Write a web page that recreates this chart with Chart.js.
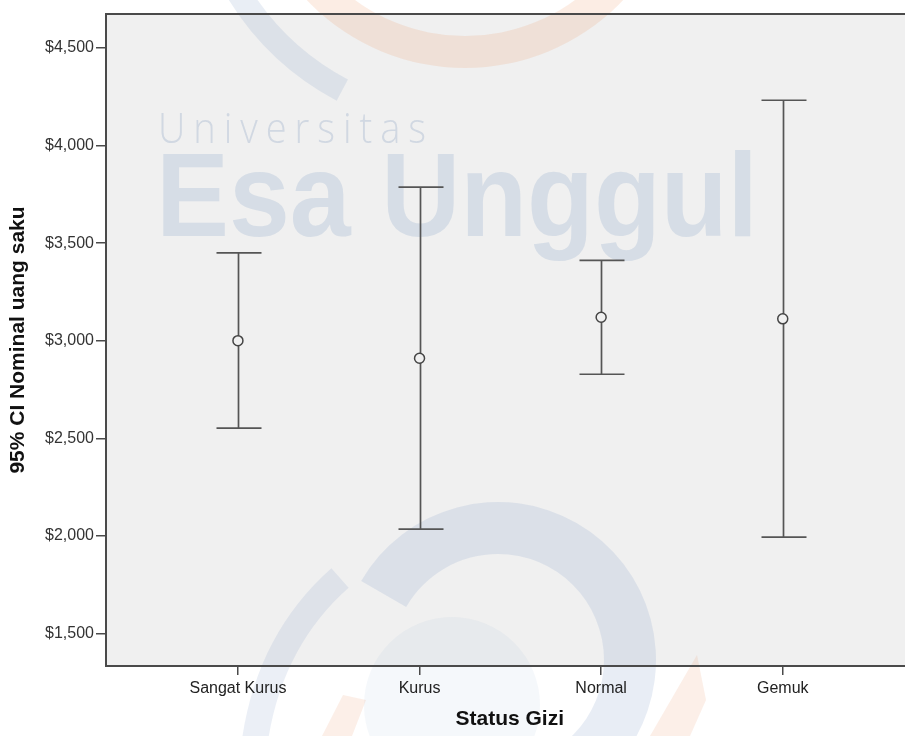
<!DOCTYPE html>
<html>
<head>
<meta charset="utf-8">
<script src="https://cdn.jsdelivr.net/npm/chart.js@4"></script>
<style>
  html,body{margin:0;padding:0;background:#fff;overflow:hidden;}
  #wrap{width:920px;height:736px;}
</style>
</head>
<body>
<div id="wrap"><canvas id="errChart"></canvas></div>
<script>
// data
const categories = ['Sangat Kurus','Kurus','Normal','Gemuk'];
const meanVals  = [3000, 2910, 3120, 3112];
const lowerVals = [2552, 2034, 2828, 1993];
const upperVals = [3450, 3787, 3412, 4232];
const yTicks = [1500, 2000, 2500, 3000, 3500, 4000, 4500];

const plotBg = '#f0f0f0';
const axisCol = '#4a4a4a';
const barCol = '#555555';
const fontFam = '"Liberation Sans", Arial, sans-serif';

// background of plot area + faint watermark
const bgPlugin = {
  id:'bg',
  beforeDraw(chart){
    const {ctx, chartArea:a} = chart;
    ctx.save();
    ctx.fillStyle = plotBg;
    ctx.fillRect(a.left, a.top, a.right-a.left, a.bottom-a.top);

    // watermark logo pieces
    ctx.fillStyle = 'rgba(235,140,90,0.16)';
    ctx.beginPath();
    ctx.arc(465,-150,218,0,Math.PI*2);
    ctx.arc(465,-150,186,0,Math.PI*2,true);
    ctx.fill();
    ctx.strokeStyle = 'rgba(120,150,195,0.16)';
    ctx.lineWidth = 24;
    ctx.beginPath();
    ctx.arc(470,-150,272,Math.PI*118/180,Math.PI*150/180);
    ctx.stroke();

    ctx.fillStyle = 'rgba(120,150,195,0.17)';
    ctx.beginPath();
    ctx.arc(498,660,158,Math.PI*210/180,Math.PI*450/180);
    ctx.arc(498,660,106,Math.PI*450/180,Math.PI*210/180,true);
    ctx.fill();
    ctx.strokeStyle = 'rgba(120,150,195,0.15)';
    ctx.lineWidth = 26;
    ctx.beginPath();
    ctx.moveTo(340,578);
    ctx.quadraticCurveTo(270,640,255,740);
    ctx.stroke();
    ctx.fillStyle = 'rgba(120,150,195,0.07)';
    ctx.beginPath();
    ctx.arc(452,705,88,0,Math.PI*2);
    ctx.fill();
    ctx.fillStyle = 'rgba(235,140,90,0.14)';
    ctx.beginPath();
    ctx.moveTo(343,695); ctx.lineTo(366,700); ctx.lineTo(352,736); ctx.lineTo(322,736);
    ctx.closePath(); ctx.fill();
    ctx.beginPath();
    ctx.moveTo(697,655); ctx.lineTo(706,700); ctx.lineTo(690,736); ctx.lineTo(650,736);
    ctx.closePath(); ctx.fill();

    // watermark text
    ctx.fillStyle = 'rgba(120,145,185,0.26)';
    ctx.font = '300 43px "Open Sans", sans-serif';
    ctx.letterSpacing = '9px';
    ctx.textBaseline = 'alphabetic';
    let w = ctx.measureText('Universitas').width;
    ctx.save();
    ctx.translate(158,143); ctx.scale(276/w,1);
    ctx.fillText('Universitas',0,0);
    ctx.restore();
    ctx.letterSpacing = '0px';
    ctx.fillStyle = 'rgba(120,150,195,0.21)';
    ctx.font = 'bold 118px "Liberation Sans Narrow", "Liberation Sans", sans-serif';
    w = ctx.measureText('Esa Unggul').width;
    ctx.save();
    ctx.translate(156,236); ctx.scale(602/w,1);
    ctx.fillText('Esa Unggul',0,0);
    ctx.restore();
    ctx.restore();
  },
  beforeDatasetsDraw(chart){
    const {ctx, scales:{x,y}} = chart;
    ctx.save();
    ctx.strokeStyle = barCol;
    ctx.lineWidth = 1.7;
    categories.forEach((c,i)=>{
      const px = Math.round(x.getPixelForValue(i+1))+0.5;
      const yl = y.getPixelForValue(lowerVals[i]);
      const yh = y.getPixelForValue(upperVals[i]);
      ctx.beginPath();
      ctx.moveTo(px,yh); ctx.lineTo(px,yl);
      ctx.moveTo(px-22,yh); ctx.lineTo(px+23,yh);
      ctx.moveTo(px-22,yl); ctx.lineTo(px+23,yl);
      ctx.stroke();
    });
    ctx.restore();
  },
  afterDraw(chart){
    const {ctx, chartArea:a} = chart;
    ctx.save();
    ctx.strokeStyle = axisCol;
    ctx.lineWidth = 2;
    ctx.beginPath();
    ctx.moveTo(a.left, a.top); ctx.lineTo(a.right+5, a.top);
    ctx.stroke();
    ctx.restore();
  }
};

new Chart(document.getElementById('errChart'),{
  type:'scatter',
  data:{datasets:[{
    data: meanVals.map((v,i)=>({x:i+1, y:v})),
    pointStyle:'circle', pointRadius:5, pointHoverRadius:5,
    borderColor:'#444', borderWidth:1.5, backgroundColor:plotBg
  }]},
  options:{
    responsive:true, maintainAspectRatio:false, animation:false,
    layout:{padding:{top:14, right:0, left:0, bottom:0}},
    plugins:{legend:{display:false}, tooltip:{enabled:false}},
    scales:{
      x:{
        type:'linear', min:0.2735, max:4.72,
        afterBuildTicks(s){ s.ticks = categories.map((c,i)=>({value:i+1})); },
        afterFit(s){ s.height = 70; },
        grid:{drawOnChartArea:false, drawTicks:true, tickLength:9, color:axisCol, lineWidth:1.5},
        border:{display:true, color:axisCol, width:2},
        ticks:{callback:v=>categories[v-1], color:'#222', padding:4, maxRotation:0,
               font:{family:fontFam, size:16}},
        title:{display:true, text:'Status Gizi', color:'#111', padding:{top:3},
               font:{family:fontFam, size:21, weight:'bold'}}
      },
      y:{
        min:1333, max:4674,
        afterBuildTicks(s){ s.ticks = yTicks.map(v=>({value:v})); },
        afterFit(s){ s.width = 106; },
        grid:{drawOnChartArea:false, drawTicks:true, tickLength:10, color:axisCol, lineWidth:1.5},
        border:{display:true, color:axisCol, width:2},
        ticks:{callback:v=>'$'+v.toLocaleString('en-US'), color:'#333', padding:2,
               font:{family:fontFam, size:16}},
        title:{display:true, text:'95% CI Nominal uang saku', color:'#111', padding:{top:6, bottom:0},
               font:{family:fontFam, size:21, weight:'bold'}}
      }
    }
  },
  plugins:[bgPlugin]
});
</script>
</body>
</html>
